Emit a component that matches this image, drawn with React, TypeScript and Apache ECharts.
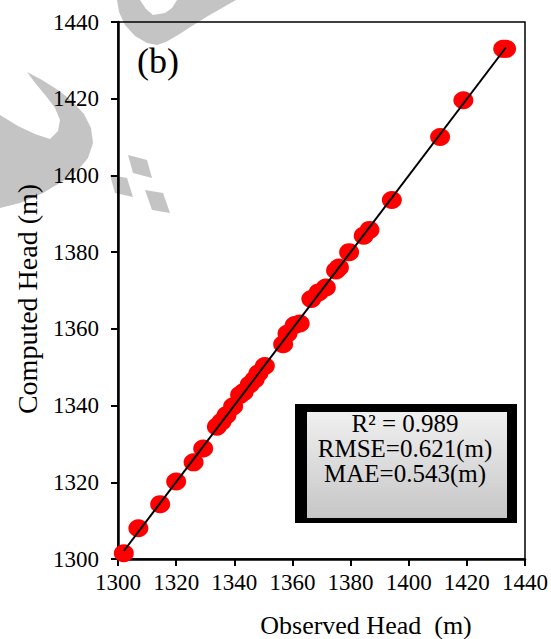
import React, { useEffect, useRef } from "react";
import * as echarts from "echarts";

const observedHead = [
  1302, 1307, 1314.5, 1320, 1326, 1329.3, 1334, 1335.6, 1337.3, 1339.6, 1342,
  1343.2, 1345.3, 1347, 1348.3, 1350.5, 1356.8, 1358.3, 1360.8, 1362.5, 1366.5,
  1369, 1371.5, 1375, 1376, 1379.5, 1384.5, 1386.5, 1394.2, 1410.8, 1418.8,
  1432.5, 1433.5,
];
const computedHead = [
  1301.5, 1308, 1314.3, 1320.2, 1325.2, 1328.8, 1334.5, 1335.8, 1337.5, 1339.8,
  1342.8, 1343.5, 1345.5, 1346.8, 1348.4, 1350.3, 1356, 1358.8, 1361, 1361.4,
  1367.8, 1369.5, 1370.8, 1375.2, 1376, 1380, 1384.3, 1385.8, 1393.6, 1410,
  1419.6, 1433, 1433,
];
const axisMin = 1300;
const axisMax = 1440;
const axisStep = 20;
const statLines = ["R² = 0.989", "RMSE=0.621(m)", "MAE=0.543(m)"];
const panelLabel = "(b)";
const xTitle = "Observed Head  (m)";
const yTitle = "Computed Head (m)";

const FONT = "Liberation Serif";
const WM = "#c4c4c4";

function fitLine(xs: number[], ys: number[]) {
  const n = xs.length;
  const mx = xs.reduce((a, b) => a + b, 0) / n;
  const my = ys.reduce((a, b) => a + b, 0) / n;
  let sxy = 0;
  let sxx = 0;
  for (let i = 0; i < n; i++) {
    sxy += (xs[i] - mx) * (ys[i] - my);
    sxx += (xs[i] - mx) * (xs[i] - mx);
  }
  const slope = sxy / sxx;
  const icpt = my - slope * mx;
  const x0 = Math.min(...xs);
  const x1 = Math.max(...xs);
  return [
    [x0, icpt + slope * x0],
    [x1, icpt + slope * x1],
  ];
}

export default function App() {
  const ref = useRef<HTMLDivElement>(null);
  useEffect(() => {
    document.body.style.margin = "0";
    const chart = echarts.init(ref.current!, null, { renderer: "svg" });
    const points = observedHead.map((x, i) => [x, computedHead[i]]);
    const trend = fitLine(observedHead, computedHead);
    const axisCommon = {
      type: "value" as const,
      min: axisMin,
      max: axisMax,
      interval: axisStep,
      splitLine: { show: false },
      axisLine: { show: true, lineStyle: { color: "#000", width: 2.5 } },
      axisTick: { show: true, inside: false, length: 7, lineStyle: { color: "#000", width: 2 } },
    };
    const labelStyle = {
      fontFamily: FONT,
      fontSize: 23,
      color: "#000",
      formatter: (v: number) => String(v),
    };
    chart.setOption({
      animation: false,
      backgroundColor: "#fff",
      textStyle: { fontFamily: FONT, color: "#000" },
      grid: {
        left: 118,
        right: 26,
        top: 22,
        bottom: 80,
        show: true,
        borderColor: "#000",
        borderWidth: 1.5,
        backgroundColor: "transparent",
      },
      xAxis: {
        ...axisCommon,
        axisLabel: { ...labelStyle, margin: 12 },
      },
      yAxis: {
        ...axisCommon,
        axisLabel: { ...labelStyle, margin: 19 },
      },
      series: [
        {
          type: "scatter",
          data: points,
          symbol: "circle",
          symbolSize: [20, 18],
          itemStyle: { color: "#ff0000", opacity: 1 },
          z: 3,
        },
        {
          type: "line",
          data: trend,
          showSymbol: false,
          symbol: "none",
          lineStyle: { color: "#000", width: 2 },
          z: 4,
        },
      ],
      graphic: [
        // watermark shapes
        {
          type: "polygon",
          z: -1,
          shape: {
            points: [
              [117, 0], [119, 12], [125, 25], [135, 36], [147, 43], [157, 45],
              [166, 42], [178, 35], [192, 26], [208, 16], [222, 8], [236, 0],
              [177, 0], [172, 8], [165, 13], [153, 15], [146, 9], [140, 0],
            ],
          },
          style: { fill: WM },
        },
        {
          type: "polygon",
          z: -1,
          shape: {
            points: [
              [27, 72], [42, 80], [58, 90], [72, 101], [84, 114], [91, 128],
              [93, 143], [88, 158], [78, 170], [63, 181], [43, 193], [20, 203],
              [0, 208], [0, 115], [18, 126], [35, 134], [50, 139], [58, 131],
              [60, 120], [55, 108], [46, 96], [36, 84],
            ],
          },
          style: { fill: WM },
        },
        {
          type: "polygon",
          z: -1,
          shape: { points: [[128, 155], [147, 160], [152, 178], [133, 173]] },
          style: { fill: WM },
        },
        {
          type: "polygon",
          z: -1,
          shape: { points: [[110, 175], [127, 178], [133, 197], [115, 193]] },
          style: { fill: WM },
        },
        {
          type: "polygon",
          z: -1,
          shape: { points: [[145, 190], [163, 193], [170, 213], [152, 210]] },
          style: { fill: WM },
        },
        // panel label
        {
          type: "text",
          z: 50,
          x: 158,
          y: 61,
          style: {
            text: panelLabel,
            font: `36px ${FONT}`,
            fill: "#000",
            align: "center",
            verticalAlign: "middle",
          },
        },
        // stats box
        {
          type: "rect",
          z: 50,
          shape: { x: 295, y: 404, width: 222, height: 119 },
          style: { fill: "#000" },
        },
        {
          type: "rect",
          z: 51,
          shape: { x: 307, y: 412, width: 200, height: 106 },
          style: {
            fill: new echarts.graphic.LinearGradient(0, 0, 0, 1, [
              { offset: 0, color: "#f0f0f0" },
              { offset: 1, color: "#c6c6c6" },
            ]),
          },
        },
        {
          type: "text",
          z: 52,
          x: 405,
          y: 448.5,
          style: {
            text: statLines.join("\n"),
            font: `25px ${FONT}`,
            lineHeight: 25,
            fill: "#000",
            align: "center",
            verticalAlign: "middle",
          },
        },
        // axis titles
        {
          type: "text",
          z: 50,
          x: 366,
          y: 625,
          style: {
            text: xTitle,
            font: `26px ${FONT}`,
            fill: "#000",
            align: "center",
            verticalAlign: "middle",
          },
        },
        {
          type: "text",
          z: 50,
          x: 27,
          y: 299,
          rotation: Math.PI / 2,
          style: {
            text: yTitle,
            font: `28px ${FONT}`,
            fill: "#000",
            align: "center",
            verticalAlign: "middle",
          },
        },
      ],
    });
    return () => chart.dispose();
  }, []);
  return (
    <div
      ref={ref}
      style={{ position: "absolute", left: 0, top: 0, width: 551, height: 639 }}
    />
  );
}
